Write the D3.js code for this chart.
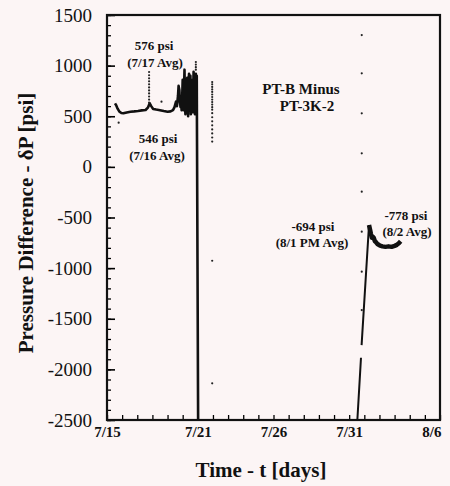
<!DOCTYPE html>
<html>
<head>
<meta charset="utf-8">
<script src="https://cdn.jsdelivr.net/npm/d3@7"></script>
<style>
  html, body { margin: 0; padding: 0; background: #fcf5f5; }
  svg { display: block; font-family: "Liberation Serif", "Times New Roman", serif; }
</style>
</head>
<body>
<svg id="chart" width="450" height="486"></svg>
<script>
// Time axis: days after 7/15, labelled at a few dates
const dayTicks = [0, 6, 11, 16, 22];
const dayLabels = ["7/15", "7/21", "7/26", "7/31", "8/6"];
const psiTicks = [1500, 1000, 500, 0, -500, -1000, -1500, -2000, -2500];

// PT-B minus PT-3K-2, first record (7/15 - 7/21), ends with the sensor drop-out
const leftDays = [0.53, 0.60, 0.70, 0.82, 0.95, 1.08, 1.30, 1.55, 1.80, 2.05, 2.30, 2.55, 2.70, 2.82, 2.92, 3.05, 3.25, 3.50, 3.75, 4.00, 4.20, 4.36, 4.46, 4.56,
  4.62, 4.69, 4.73, 4.78, 4.82, 4.86, 4.90, 4.93, 4.97, 5.00, 5.03, 5.06, 5.09, 5.12, 5.15, 5.18, 5.21, 5.24, 5.27, 5.30, 5.33, 5.36, 5.39, 5.42,
  5.45, 5.48, 5.51, 5.54, 5.57, 5.60, 5.63, 5.66, 5.69, 5.72, 5.75, 5.78, 5.81, 5.84, 5.87, 5.90, 5.93, 6.02];
const leftPsi = [628, 610, 575, 545, 532, 529, 538, 545, 548, 552, 558, 562, 585, 628, 600, 572, 566, 560, 552, 545, 548, 560, 590, 644,
  600, 700, 800, 760, 640, 590, 620, 560, 700, 860, 720, 560, 780, 960, 620, 520, 840, 700, 540, 880, 600, 500, 820, 920,
  560, 640, 900, 520, 760, 600, 860, 540, 700, 940, 580, 780, 520, 860, 920, 640, 900, -2500];

// Second record (7/31 - 8/3): recovery ramp, with a short gap, then the plateau
const riseDays = [16.54, 16.78, null, 16.82, 17.31];
const risePsi = [-2500, -1885, null, -1760, -574];
const plateauDays = [17.31, 17.38, 17.44, 17.50, 17.56, 17.62, 17.70, 17.78, 17.86, 17.95, 18.05, 18.20, 18.40, 18.60, 18.80, 19.00, 19.15, 19.28, 19.40];
const plateauPsi = [-574, -620, -665, -700, -690, -700, -735, -745, -760, -770, -778, -785, -790, -785, -790, -780, -770, -755, -735];

// Isolated readings plotted as points
const dotDays = [2.78, 2.78, 2.78, 2.78, 2.78, 2.78, 2.78, 2.78, 2.78, 2.78, 2.78,
  5.87, 5.87, 5.87, 5.87,
  6.95, 6.95, 6.95, 6.95, 6.95, 6.95, 6.95, 6.95, 6.95, 6.95, 6.95, 6.95,
  6.95, 6.95, 6.95, 6.95, 6.95, 6.95, 6.95, 6.95, 6.95, 6.95,
  16.83, 16.83, 16.83, 16.83, 16.83, 16.83, 16.83, 16.83,
  0.77, 3.60];
const dotPsi = [937, 905, 875, 845, 815, 785, 755, 725, 695, 665, 635,
  1036, 1010, 985, 960,
  838, 815, 790, 765, 740, 715, 690, 665, 640, 615, 590, 565,
  530, 490, 450, 410, 370, 330, 290, 250,
  -927, -2138,
  1302, 924, 529, 134, -245, -640, -1035, -1414,
  437, 644];

const svg = d3.select("#chart");
const plot = { left: 107, right: 440, top: 15, bottom: 420 };

const x = d3.scaleLinear().domain([0, 22]).range([plot.left, plot.right]);
const y = d3.scaleLinear().domain([-2500, 1500]).range([plot.bottom, plot.top]);

svg.append("defs").append("clipPath").attr("id", "clip")
  .append("rect").attr("x", plot.left).attr("y", plot.top)
  .attr("width", plot.right - plot.left).attr("height", plot.bottom - plot.top);

// y axis: minor ticks every 100 psi, labelled ticks every 500 psi, all pointing inward
svg.append("g").attr("transform", `translate(${plot.left},0)`)
  .call(d3.axisLeft(y).tickValues(d3.range(-2500, 1501, 100)).tickSize(-4).tickFormat(""))
  .call(g => g.select(".domain").remove())
  .call(g => g.selectAll("line").attr("stroke-width", 1.3));
svg.append("g").attr("transform", `translate(${plot.left},0)`)
  .call(d3.axisLeft(y).tickValues(psiTicks).tickSize(-8).tickPadding(15).tickFormat(d => String(d)))
  .call(g => g.select(".domain").remove())
  .call(g => g.selectAll("line").attr("stroke-width", 1.6))
  .call(g => g.selectAll("text").attr("font-size", 19).attr("fill", "#111")
    .attr("font-family", "Liberation Serif, serif"));

// x axis: one tick per day, labels at selected dates
svg.append("g").attr("transform", `translate(0,${plot.bottom})`)
  .call(d3.axisBottom(x).tickValues(d3.range(0, 23)).tickSize(-5).tickFormat(""))
  .call(g => g.select(".domain").remove())
  .call(g => g.selectAll("line").attr("stroke-width", 1.3));
svg.append("g").attr("transform", `translate(0,${plot.bottom})`)
  .call(d3.axisBottom(x).tickValues(dayTicks).tickSize(0).tickPadding(6)
    .tickFormat((d, i) => dayLabels[i]))
  .call(g => g.select(".domain").remove())
  .call(g => g.selectAll("text").attr("font-size", 15).attr("font-weight", "bold")
    .attr("fill", "#111").attr("font-family", "Liberation Serif, serif"))
  .call(g => g.selectAll(".tick").filter((d, i) => i === dayTicks.length - 1)
    .select("text").attr("text-anchor", "end").attr("dx", 1));

// plot frame
svg.append("rect")
  .attr("x", plot.left).attr("y", plot.top)
  .attr("width", plot.right - plot.left).attr("height", plot.bottom - plot.top)
  .attr("fill", "none").attr("stroke", "#111").attr("stroke-width", 2.2);

const layer = svg.append("g").attr("clip-path", "url(#clip)");

const line = d3.line()
  .defined(d => d[0] !== null)
  .x(d => x(d[0])).y(d => y(d[1]));

layer.append("path")
  .datum(d3.zip(leftDays, leftPsi))
  .attr("d", line)
  .attr("fill", "none").attr("stroke", "#111").attr("stroke-width", 2.6)
  .attr("stroke-linejoin", "round");

layer.append("path")
  .datum(d3.zip(riseDays, risePsi))
  .attr("d", line)
  .attr("fill", "none").attr("stroke", "#111").attr("stroke-width", 2);

layer.append("path")
  .datum(d3.zip(plateauDays, plateauPsi))
  .attr("d", line)
  .attr("fill", "none").attr("stroke", "#111").attr("stroke-width", 4.5)
  .attr("stroke-linejoin", "round");

layer.selectAll("circle.reading")
  .data(d3.zip(dotDays, dotPsi))
  .join("circle")
  .attr("class", "reading")
  .attr("cx", d => x(d[0])).attr("cy", d => y(d[1]))
  .attr("r", 1.1).attr("fill", "#222");

// annotations
const notes = [
  { t: "576 psi", x: 154, y: 50, s: 13 },
  { t: "(7/17 Avg)", x: 155, y: 67, s: 13 },
  { t: "546 psi", x: 158, y: 143, s: 13 },
  { t: "(7/16 Avg)", x: 157, y: 160, s: 13 },
  { t: "PT-B Minus", x: 301, y: 94, s: 15 },
  { t: "PT-3K-2", x: 307, y: 111, s: 15 },
  { t: "-694 psi", x: 313, y: 231, s: 13 },
  { t: "(8/1 PM Avg)", x: 312, y: 247, s: 13 },
  { t: "-778 psi", x: 406, y: 220, s: 13 },
  { t: "(8/2 Avg)", x: 407, y: 236, s: 13 }
];
svg.selectAll("text.note").data(notes).join("text")
  .attr("class", "note")
  .attr("x", d => d.x).attr("y", d => d.y)
  .attr("text-anchor", "middle").attr("font-weight", "bold")
  .attr("font-size", d => d.s).attr("fill", "#111")
  .text(d => d.t);

// axis titles
svg.append("text")
  .attr("x", 261).attr("y", 477)
  .attr("text-anchor", "middle").attr("font-weight", "bold").attr("font-size", 21)
  .attr("fill", "#111")
  .text("Time - t [days]");

svg.append("text")
  .attr("transform", "translate(33,223) rotate(-90)")
  .attr("text-anchor", "middle").attr("font-weight", "bold").attr("font-size", 21)
  .attr("fill", "#111")
  .text("Pressure Difference - δP [psi]");
</script>
</body>
</html>
